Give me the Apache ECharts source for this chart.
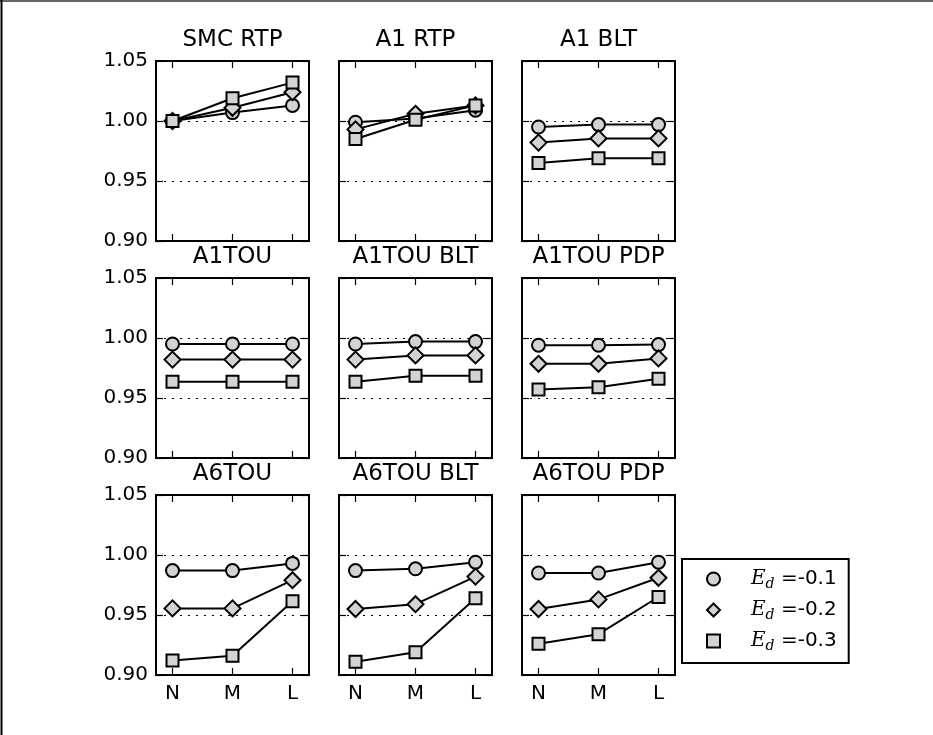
<!DOCTYPE html>
<html><head><meta charset="utf-8">
<script src="https://cdn.jsdelivr.net/npm/echarts@6/dist/echarts.min.js"></script>
<style>html,body{margin:0;padding:0;background:#fff}#c{width:933px;height:735px}</style>
</head><body><div id="c"></div>
<script>
const categories = ['N', 'M', 'L'];
const panelTitles = ['SMC RTP', 'A1 RTP', 'A1 BLT', 'A1TOU', 'A1TOU BLT', 'A1TOU PDP', 'A6TOU', 'A6TOU BLT', 'A6TOU PDP'];
const seriesNames = ['E_d =-0.1', 'E_d =-0.2', 'E_d =-0.3'];
const seriesLabels = ['-0.1', '-0.2', '-0.3'];
const yMin = 0.90, yMax = 1.05, yStep = 0.05;
// values per panel (N, M, L)
const ed01 = [[1.000, 1.007, 1.013], [0.999, 1.002, 1.009], [0.995, 0.997, 0.997],
              [0.995, 0.995, 0.995], [0.995, 0.997, 0.997], [0.994, 0.994, 0.9945],
              [0.987, 0.987, 0.993], [0.987, 0.9885, 0.994], [0.985, 0.985, 0.994]];
const ed02 = [[1.000, 1.011, 1.024], [0.993, 1.006, 1.013], [0.982, 0.9855, 0.9855],
              [0.982, 0.982, 0.982], [0.982, 0.9855, 0.9855], [0.9785, 0.9785, 0.983],
              [0.9555, 0.9555, 0.979], [0.955, 0.959, 0.982], [0.955, 0.963, 0.981]];
const ed03 = [[1.000, 1.019, 1.032], [0.985, 1.001, 1.013], [0.965, 0.969, 0.969],
              [0.9635, 0.9635, 0.9635], [0.9635, 0.9685, 0.9685], [0.957, 0.959, 0.966],
              [0.912, 0.916, 0.9615], [0.911, 0.919, 0.964], [0.926, 0.934, 0.965]];

const allSeries = [ed01, ed02, ed03];
const symbols = ['circle', 'diamond', 'rect'];
const symbolSizes = [13, 16, 12];

const font = 'DejaVu Sans';
const colLeft = [156, 339, 522];
const rowTop = [61, 278, 495];
const gw = 153, gh = 180;

const grids = [], xAxes = [], yAxes = [], series = [], titles = [];
const tickIdx = categories.map((c, i) => i);
for (let p = 0; p < 9; p++) {
  const r = Math.floor(p / 3), c = p % 3;
  grids.push({left: colLeft[c], top: rowTop[r], width: gw, height: gh, show: true,
    borderColor: '#000', borderWidth: 2, backgroundColor: 'transparent', containLabel: false});
  titles.push({text: panelTitles[p], left: colLeft[c] + gw / 2, top: rowTop[r] - 32, textAlign: 'center', padding: 0,
    textStyle: {fontFamily: font, fontSize: 23, fontWeight: 'normal', color: '#000'}});
  const xBase = {type: 'value', gridIndex: p, min: -0.275, max: 2.275,
    axisLine: {show: false, onZero: false}, splitLine: {show: false},
    axisTick: {show: true, inside: true, length: 7, customValues: tickIdx, lineStyle: {color: '#000', width: 1.2}}};
  xAxes.push(Object.assign({}, xBase, {position: 'bottom',
    axisLabel: {show: r === 2, customValues: tickIdx, formatter: v => categories[Math.round(v)],
      fontFamily: font, fontSize: 20, color: '#000', margin: 9}}));
  xAxes.push(Object.assign({}, xBase, {position: 'top', axisLabel: {show: false}}));
  const yBase = {type: 'value', gridIndex: p, min: yMin, max: yMax, interval: yStep,
    axisLine: {show: false, onZero: false},
    axisTick: {show: true, inside: true, length: 7, lineStyle: {color: '#000', width: 1.2}}};
  yAxes.push(Object.assign({}, yBase, {position: 'left',
    splitLine: {show: true, lineStyle: {color: '#000', width: 1, type: [2, 6]}},
    axisLabel: {show: c === 0, formatter: v => v.toFixed(2), fontFamily: font, fontSize: 20, color: '#000', margin: 8}}));
  yAxes.push(Object.assign({}, yBase, {position: 'right', splitLine: {show: false}, axisLabel: {show: false}}));
  for (let s = 0; s < 3; s++) {
    series.push({
      type: 'line', name: seriesNames[s], xAxisIndex: 2 * p, yAxisIndex: 2 * p,
      data: allSeries[s][p].map((v, i) => [i, v]),
      symbol: symbols[s], symbolSize: symbolSizes[s], showSymbol: true,
      lineStyle: {color: '#000', width: 2},
      itemStyle: {color: '#d3d3d3', borderColor: '#000', borderWidth: 2},
      emphasis: {disabled: true}, silent: true, animation: false
    });
  }
}

const chart = echarts.init(document.getElementById('c'), null, {renderer: 'canvas'});
chart.setOption({
  backgroundColor: '#fff',
  animation: false,
  title: titles,
  grid: grids, xAxis: xAxes, yAxis: yAxes, series: series,
  legend: {
    orient: 'vertical', left: 682, top: 559,
    data: seriesNames.map((n, i) => ({name: n, icon: symbols[i]})),
    itemWidth: 13, itemHeight: 13, itemGap: 9,
    itemStyle: {color: '#d3d3d3', borderColor: '#000', borderWidth: 2},
    borderColor: '#000', borderWidth: 2, padding: [10, 12, 10, 24],
    selectedMode: false,
    formatter: name => '{e|E}{d|d}{t| =' + seriesLabels[seriesNames.indexOf(name)] + '}',
    textStyle: {padding: [0, 0, 0, 26], rich: {
      e: {fontFamily: 'DejaVu Serif', fontStyle: 'italic', fontSize: 20, color: '#000', lineHeight: 24},
      d: {fontFamily: 'DejaVu Serif', fontStyle: 'italic', fontSize: 14, color: '#000', lineHeight: 24, verticalAlign: 'bottom', padding: [8, 0, 0, 0]},
      t: {fontFamily: font, fontSize: 20, color: '#000', lineHeight: 24}
    }}
  },
  graphic: [
    {type: 'line', shape: {x1: 0, y1: 1, x2: 933, y2: 1}, style: {stroke: '#666', lineWidth: 2}, silent: true},
    {type: 'line', shape: {x1: 1.5, y1: 0, x2: 1.5, y2: 735}, style: {stroke: '#000', lineWidth: 2}, silent: true}
  ]
});
</script></body></html>
